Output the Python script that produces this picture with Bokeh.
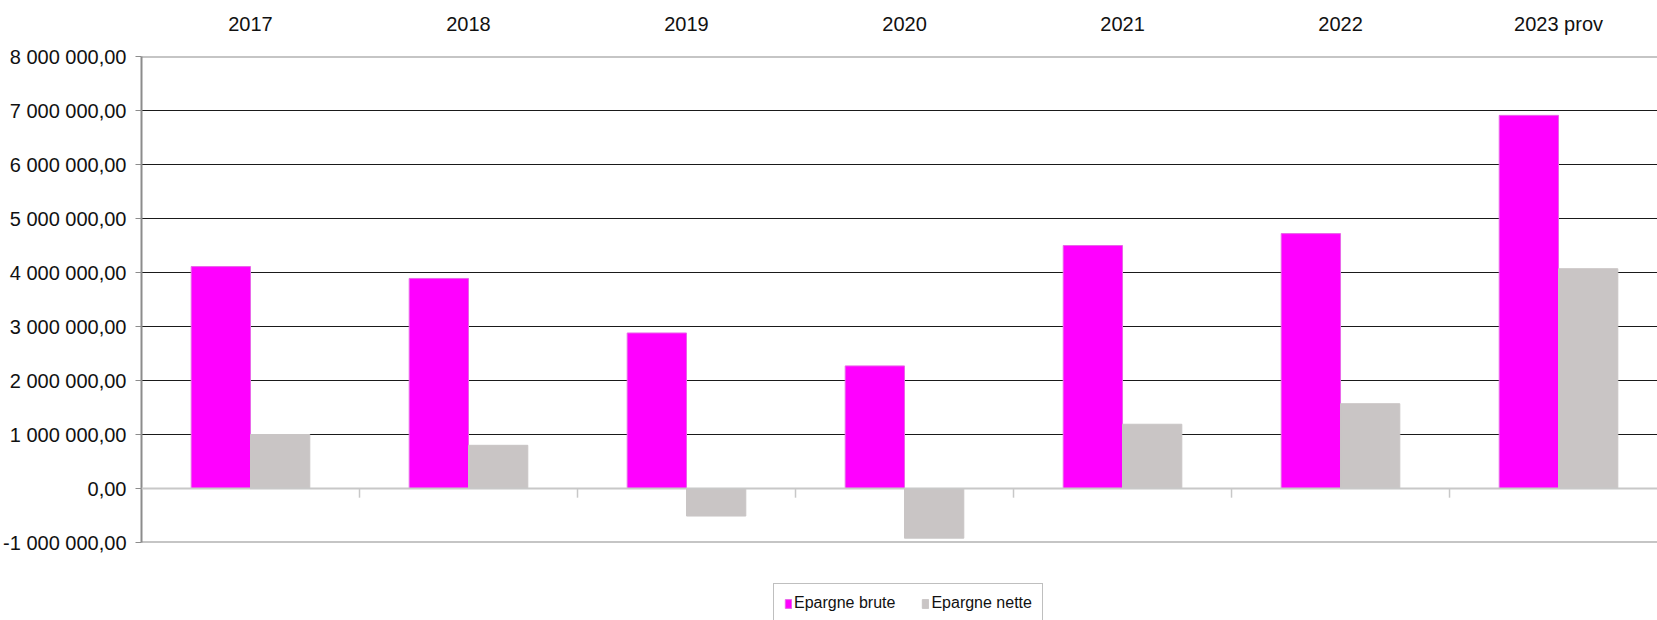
from bokeh.plotting import figure
from bokeh.layouts import column
from bokeh.models import (Range1d, FixedTicker, LinearAxis, Span, Legend, LegendItem,
                          ColumnDataSource)
from bokeh.transform import dodge
from bokeh.embed import file_html
from bokeh.resources import INLINE

# ---- data ----
years = ["2017", "2018", "2019", "2020", "2021", "2022", "2023 prov"]
epargne_brute = [4.11e6, 3.89e6, 2.88e6, 2.27e6, 4.50e6, 4.72e6, 6.91e6]
epargne_nette = [1.00e6, 0.80e6, -0.51e6, -0.92e6, 1.19e6, 1.57e6, 4.07e6]
y_ticks = [-1e6, 0, 1e6, 2e6, 3e6, 4e6, 5e6, 6e6, 7e6, 8e6]
y_labels = ["-1 000 000,00", "0,00", "1 000 000,00", "2 000 000,00", "3 000 000,00",
            "4 000 000,00", "5 000 000,00", "6 000 000,00", "7 000 000,00", "8 000 000,00"]
series_names = ["Epargne brute", "Epargne nette"]
series_colors = ["#FF00FF", "#C9C5C5"]
series_lines = ["#E866E8", "#C9C5C5"]

FONT = "Liberation Sans"
n = len(years)
xs = list(range(n))
src = ColumnDataSource(dict(x=xs, brute=epargne_brute, nette=epargne_nette))

p = figure(frame_width=1516, frame_height=486, output_backend="svg", toolbar_location=None,
           x_range=Range1d(-0.5, n - 0.546), y_range=Range1d(y_ticks[0], y_ticks[-1]),
           x_axis_location=None, y_axis_location="left",
           min_border_left=141, min_border_right=0, min_border_top=56, min_border_bottom=40)
p.outline_line_color = None
p.background_fill_color = "white"
p.border_fill_color = "white"

# y axis
ya = p.yaxis[0]
ya.ticker = FixedTicker(ticks=y_ticks)
ya.major_label_overrides = {t: l for t, l in zip(y_ticks, y_labels)}
ya.major_label_text_font = FONT
ya.major_label_text_font_size = "20px"
ya.major_label_text_color = "#111111"
ya.axis_line_color = "#8c8c8c"
ya.axis_line_width = 2
ya.major_tick_line_color = "#8c8c8c"
ya.major_tick_out = 6
ya.major_tick_in = 0
ya.minor_tick_line_color = None
ya.major_label_standoff = 9

# top category axis
ta = LinearAxis(ticker=FixedTicker(ticks=xs),
                major_label_overrides={i: y for i, y in zip(xs, years)})
ta.major_label_text_font = FONT
ta.major_label_text_font_size = "20px"
ta.major_label_text_color = "#111111"
ta.axis_line_color = None
ta.major_tick_line_color = None
ta.minor_tick_line_color = None
ta.major_label_standoff = 16
p.add_layout(ta, "above")

# grid
p.xgrid.grid_line_color = None
p.ygrid.ticker = FixedTicker(ticks=y_ticks[2:-1])
p.ygrid.grid_line_color = "#1a1a1a"
p.ygrid.grid_line_width = 1

p.add_layout(Span(location=y_ticks[-1], dimension="width", line_color="#8c8c8c", line_width=2))
p.add_layout(Span(location=y_ticks[0], dimension="width", line_color="#8c8c8c", line_width=2))

# bars
w = 0.272
p.vbar(x=dodge("x", -0.136, range=p.x_range), top="brute", bottom=0, width=w,
       source=src, fill_color=series_colors[0], line_color=series_lines[0], line_width=1)
p.vbar(x=dodge("x", 0.136, range=p.x_range), top="nette", bottom=0, width=w,
       source=src, fill_color=series_colors[1], line_color=series_lines[1], line_width=1)

# zero line and category separator ticks
p.add_layout(Span(location=0, dimension="width", line_color="#c8c8c8", line_width=2))
bounds = [i + 0.5 for i in range(n - 1)]
p.segment(x0=bounds, y0=[0] * len(bounds), x1=bounds, y1=[-0.17e6] * len(bounds),
          line_color="#c8c8c8", line_width=1.5)

# ---- legend strip (proxy renderers lie outside its visible range) ----
lg = figure(width=1657, height=38, output_backend="svg", toolbar_location=None,
            x_range=Range1d(0, 1), y_range=Range1d(0, 1),
            x_axis_location=None, y_axis_location=None,
            min_border_left=0, min_border_right=0, min_border_top=0, min_border_bottom=0)
lg.outline_line_color = None
lg.xgrid.grid_line_color = None
lg.ygrid.grid_line_color = None
lg.background_fill_color = "white"
lg.border_fill_color = "white"
items = []
for name, fc, lc in zip(series_names, series_colors, series_lines):
    r = lg.vbar(x=[-5], top=[-5], bottom=[-6], width=0.1, fill_color=fc, line_color=lc)
    items.append(LegendItem(label=name, renderers=[r]))

legend = Legend(items=items, orientation="horizontal", location=(632, -3))
legend.label_text_font = FONT
legend.label_text_font_size = "16px"
legend.label_text_color = "#111111"
legend.glyph_width = 8
legend.glyph_height = 11
legend.label_standoff = 2
legend.spacing = 26
legend.padding = 10
legend.margin = 0
legend.border_line_color = "#7f7f7f"
legend.border_line_width = 1.5
legend.background_fill_color = "white"
legend.background_fill_alpha = 1
lg.add_layout(legend, "center")

layout = column(p, lg, spacing=0)
open("out.html", "w").write(file_html(layout, INLINE))
